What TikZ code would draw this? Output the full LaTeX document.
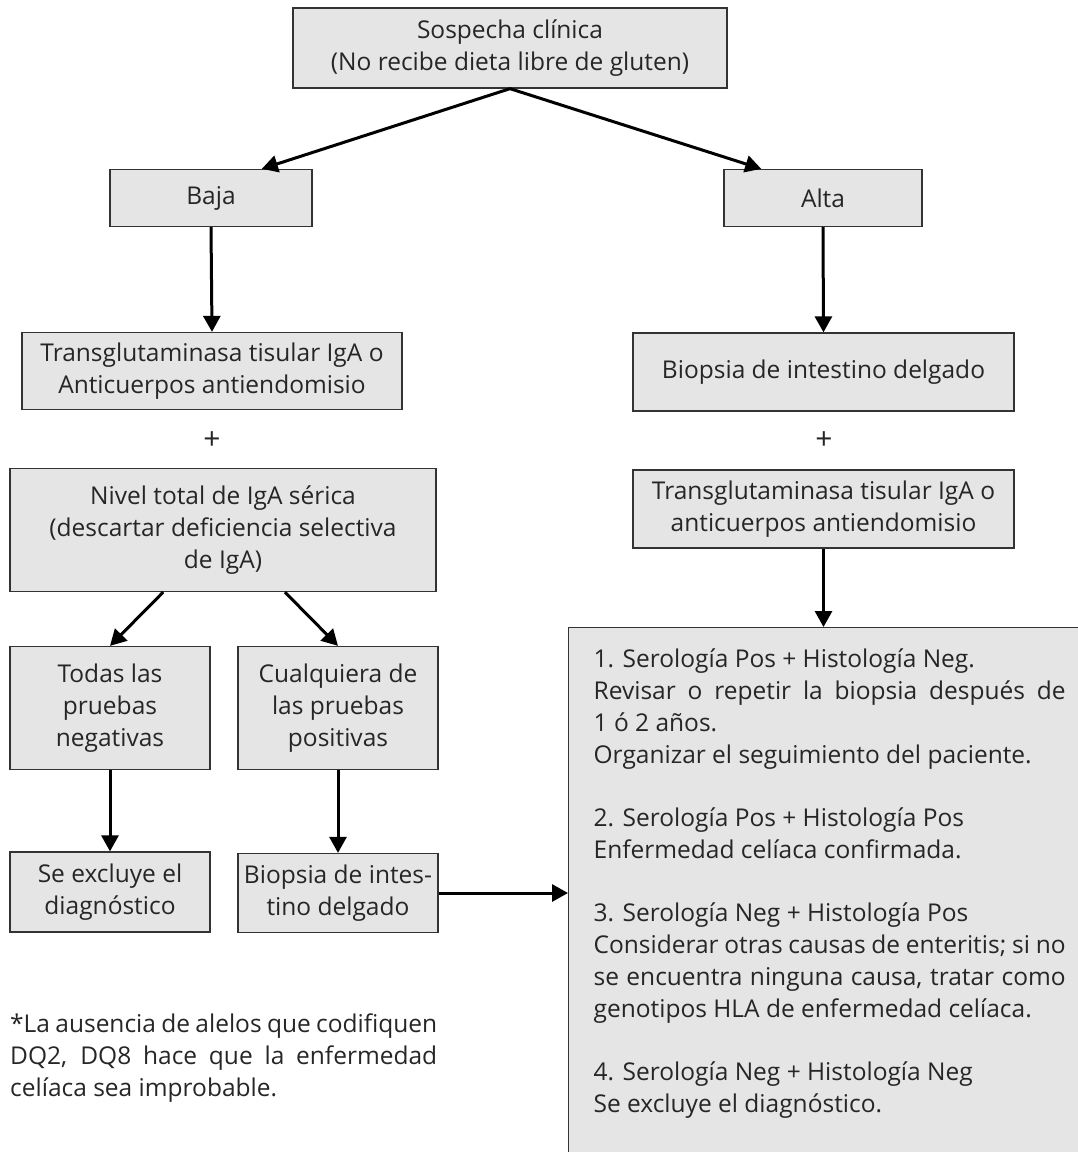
\documentclass[tikz,border=0pt]{standalone}
\usepackage{fontspec}
\setmainfont{Open Sans}
\usetikzlibrary{arrows.meta,calc}

\begin{document}
\begin{tikzpicture}[x=1pt,y=-1pt,
  every node/.append style={font=\fontsize{24.5}{32}\selectfont, text=black!85},
  box/.style={draw=black!80, fill=black!10, line width=1.3pt, inner sep=0pt, align=center},
  plus/.style={inner sep=0pt, font=\fontsize{30}{32}\selectfont},
  arr/.style={line width=3pt, -{Triangle[length=16pt,width=17pt]}}]
\useasboundingbox (0,0) rectangle (1078,1152);
% upper level
\node[box, minimum width=434, minimum height=80] (sospecha) at (510,48) {Sospecha clínica\\(No recibe dieta libre de gluten)};
\node[box, minimum width=202, minimum height=57] (baja) at (211,198) {Baja};
\node[box, minimum width=198, minimum height=57] (alta) at (823,198) {Alta};
% left branch
\node[box, minimum width=380, minimum height=77] (trans1) at (212,371) {Transglutaminasa tisular IgA o\\Anticuerpos antiendomisio};
\node[plus] (plus1) at (212,441) {+};
\node[box, minimum width=426, minimum height=123] (nivel) at (223,530) {Nivel total de IgA sérica\\(descartar deficiencia selectiva\\de IgA)};
\node[box, minimum width=200, minimum height=123] (todas) at (110,708) {Todas las\\pruebas\\negativas};
\node[box, minimum width=200, minimum height=123] (cualq) at (338,708) {Cualquiera de\\las pruebas\\positivas};
\node[box, minimum width=200, minimum height=80] (excluye) at (110,892) {Se excluye el\\diagnóstico};
\node[box, minimum width=200, minimum height=79] (biopsia1) at (338,893) {Biopsia de intes-\\tino delgado};
% right branch
\node[box, minimum width=381, minimum height=78] (biopsia2) at (823.5,372) {Biopsia de intestino delgado};
\node[plus] (plus2) at (824,441) {+};
\node[box, minimum width=381, minimum height=78] (trans2) at (823.5,509) {Transglutaminasa tisular IgA o\\anticuerpos antiendomisio};
\node[box, anchor=north west, text width=472, align=justify, inner xsep=25, inner ysep=21] (result) at (568,627)
  {1. Serología Pos + Histología Neg.\\
   Revisar o repetir la biopsia después de\linebreak
   1 ó 2 años.\\
   Organizar el seguimiento del paciente.\\[31pt]
   2. Serología Pos + Histología Pos\\
   Enfermedad celíaca confirmada.\\[31pt]
   3. Serología Neg + Histología Pos\\
   Considerar otras causas de enteritis; si no\linebreak
   se encuentra ninguna causa, tratar como\linebreak
   genotipos HLA de enfermedad celíaca.\\[31pt]
   4. Serología Neg + Histología Neg\\
   Se excluye el diagnóstico.\par\vspace{80pt}};
% note
\node[anchor=north west, text width=427, align=justify, inner sep=0pt] (nota) at (10,1014)
  {*La ausencia de alelos que codifiquen\linebreak
   DQ2, DQ8 hace que la enfermedad\linebreak
   celíaca sea improbable.};
% arrows
\draw[arr] (sospecha.south) -- ($(baja.north)!0.5!(baja.north east)$);
\draw[arr] (sospecha.south) -- ($(alta.north)!0.62!(alta.north west)$);
\draw[arr] (baja.south) -- (trans1.north);
\draw[arr] (alta.south) -- (biopsia2.north);
\draw[arr] ($(nivel.south)!0.28!(nivel.south west)$) -- (todas.north);
\draw[arr] ($(nivel.south)!0.29!(nivel.south east)$) -- (cualq.north);
\draw[arr] (todas.south) -- (excluye.north);
\draw[arr] (cualq.south) -- (biopsia1.north);
\draw[arr] (biopsia1.east) -- (biopsia1.east -| result.west);
\draw[arr] (trans2.south) -- (trans2.south |- result.north);
\end{tikzpicture}
\end{document}
